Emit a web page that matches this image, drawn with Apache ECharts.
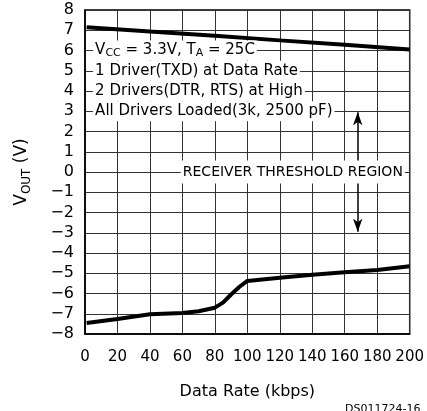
<!DOCTYPE html>
<html>
<head>
<meta charset="utf-8">
<script src="https://cdn.jsdelivr.net/npm/echarts@6/dist/echarts.min.js"></script>
<style>html,body{margin:0;padding:0;background:#fff}#c{width:427px;height:411px}</style>
</head>
<body>
<div id="c"></div>
<script>
// Upper curve (positive output)
const upperRate = [1, 40, 80, 120, 160, 200];
const upperVout = [7.15, 6.94, 6.73, 6.50, 6.28, 6.05];
// Lower curve (negative output)
const lowerRate = [1, 20, 40, 60, 70, 80, 85, 90, 95, 100, 120, 140, 160, 180, 200];
const lowerVout = [-7.46, -7.26, -7.02, -6.96, -6.88, -6.70, -6.45, -6.05, -5.68, -5.38, -5.22, -5.07, -4.95, -4.84, -4.65];
// Annotation texts
const annoText = ['V{s|CC} = 3.3V, T{s|A} = 25C', '1 Driver(TXD) at Data Rate', '2 Drivers(DTR, RTS) at High', 'All Drivers Loaded(3k, 2500 pF)'];
const annoY = [6, 5, 4, 3];
const annoX = 5;
const thresholdText = 'RECEIVER THRESHOLD REGION';
const thresholdPos = [59, 0];
const arrowX = 168;
const arrowTop = 2.95;
const arrowBottom = -2.95;

const FONT = 'DejaVu Sans';
const chart = echarts.init(document.getElementById('c'), null, {renderer: 'canvas'});

const zip = (a, b) => a.map((v, i) => [v, b[i]]);

chart.setOption({
  animation: false,
  backgroundColor: '#fff',
  grid: {left: 85, right: 17, top: 10, bottom: 77, show: true, borderColor: '#000', borderWidth: 1.5, backgroundColor: 'transparent'},
  xAxis: {
    type: 'value', min: 0, max: 200, interval: 20,
    name: 'Data Rate (kbps)', nameLocation: 'middle', nameGap: 50,
    nameTextStyle: {fontFamily: FONT, fontSize: 16, color: '#000'},
    axisLine: {show: true, onZero: false, lineStyle: {color: '#000', width: 1.5}},
    axisTick: {show: false},
    axisLabel: {fontFamily: FONT, fontSize: 15, color: '#000', margin: 16},
    splitLine: {show: true, lineStyle: {color: '#333', width: 1}}
  },
  yAxis: {
    type: 'value', min: -8, max: 8, interval: 1,
    name: 'V{s|OUT} (V)', nameLocation: 'middle', nameGap: 52, nameRotate: 90,
    nameTextStyle: {fontFamily: FONT, fontSize: 17, color: '#000', lineHeight: 22,
      rich: {s: {fontFamily: FONT, fontSize: 12, color: '#000', lineHeight: 12, verticalAlign: 'bottom'}}},
    axisLine: {show: true, onZero: false, lineStyle: {color: '#000', width: 1.5}},
    axisTick: {show: false},
    axisLabel: {fontFamily: FONT, fontSize: 16, color: '#000', margin: 11,
      formatter: v => String(v).replace('-', '\u2212')},
    splitLine: {show: true, lineStyle: {color: '#333', width: 1}}
  },
  series: [
    {type: 'line', data: zip(upperRate, upperVout), showSymbol: false, symbol: 'none',
      lineStyle: {color: '#000', width: 4}, z: 2, silent: true},
    {type: 'line', data: zip(lowerRate, lowerVout), showSymbol: false, symbol: 'none',
      lineStyle: {color: '#000', width: 4}, z: 2, silent: true},
    {type: 'line', data: [], z: 3, silent: true,
      markLine: {silent: true, symbol: ['arrow', 'arrow'], symbolSize: [7, 13], animation: false,
        label: {show: false}, lineStyle: {color: '#000', width: 1.5, type: 'solid'},
        emphasis: {disabled: true},
        data: [[{coord: [arrowX, arrowTop]}, {coord: [arrowX, arrowBottom]}]]}},
    {type: 'scatter', symbolSize: 0, z: 5, silent: true, itemStyle: {opacity: 1},
      data: annoText.map((t, i) => ({
        value: [annoX, annoY[i]],
        label: {show: true, position: 'right', distance: 0, formatter: t,
          fontFamily: FONT, fontSize: 15, color: '#000', opacity: 1, lineHeight: 16,
          backgroundColor: '#fff', padding: [2, 2, 2, 2],
          rich: {s: {fontFamily: FONT, fontSize: 11, color: '#000', lineHeight: 10, verticalAlign: 'bottom'}}}
      })).concat([{
        value: thresholdPos,
        label: {show: true, position: 'right', distance: 0, formatter: thresholdText,
          fontFamily: FONT, fontSize: 14, color: '#000', opacity: 1, lineHeight: 15,
          backgroundColor: '#fff', padding: [4, 2, 4, 2]}
      }])}
  ],
  graphic: [
    {type: 'text', left: 345, top: 404, silent: true,
      style: {text: 'DS011724-16', fontFamily: FONT, fontSize: 11, fill: '#000'}}
  ]
});
</script>
</body>
</html>
